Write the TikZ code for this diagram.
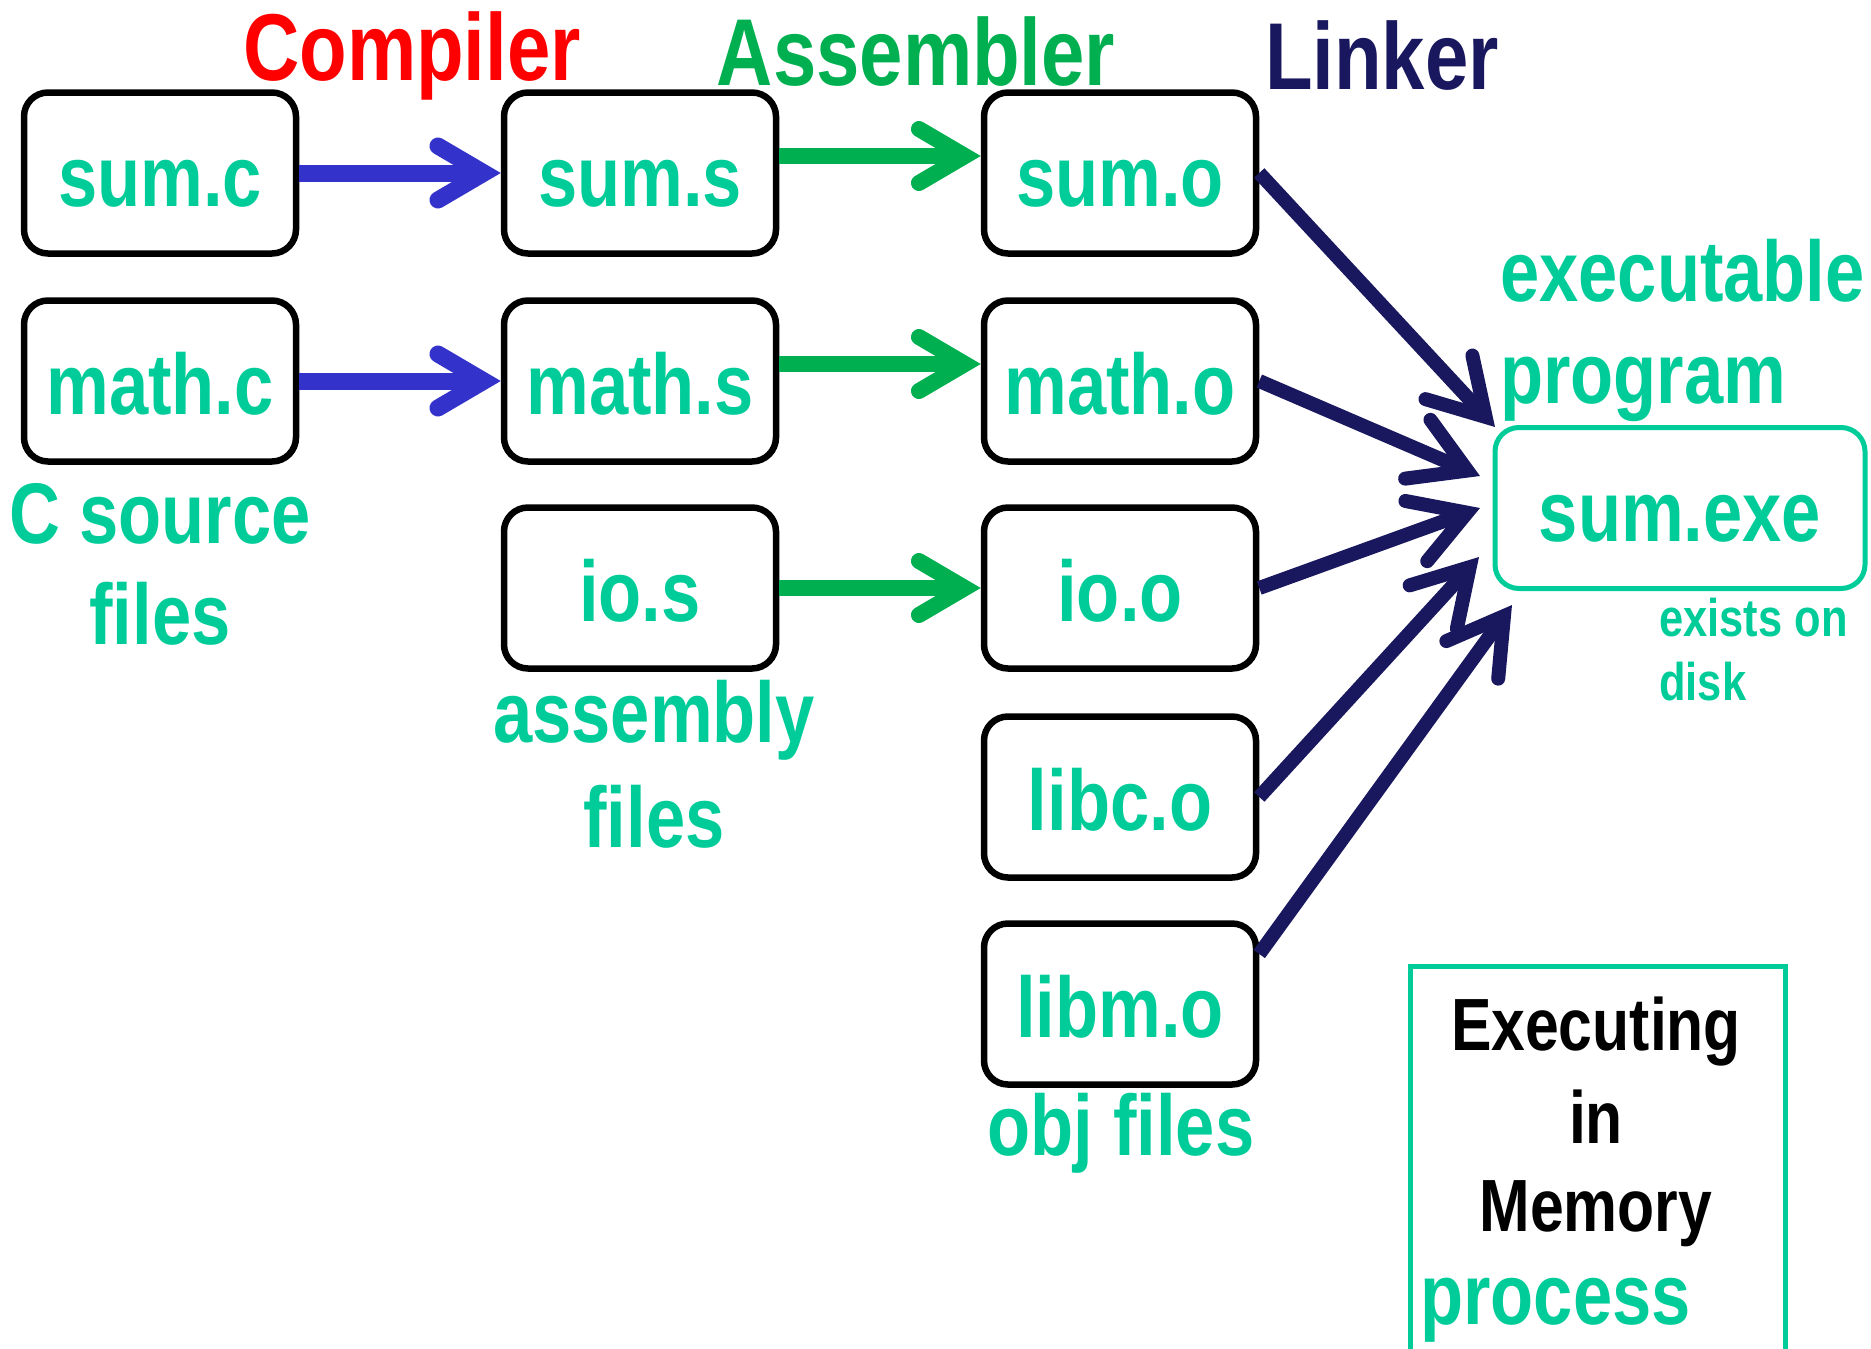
\documentclass[tikz,border=0pt]{standalone}
\usepackage{fontspec}
\setmainfont{Liberation Sans}[FakeStretch=0.82]
\usetikzlibrary{arrows.meta}
\definecolor{teal1}{RGB}{0,204,153}
\definecolor{grn}{RGB}{0,176,80}
\definecolor{blu}{RGB}{51,51,204}
\definecolor{navy1}{RGB}{25,23,94}
\definecolor{red1}{RGB}{255,0,0}
\begin{document}
\begin{tikzpicture}[x=1pt,y=-1pt,
  filebox/.style={draw=black, line width=6.5pt, rounded corners=24pt, minimum width=272pt, minimum height=161pt, inner sep=0pt, text=teal1, text height=66pt, text depth=0pt, font=\fontsize{86}{86}\selectfont\bfseries},
  exebox/.style={filebox, draw=teal1, line width=5pt, minimum width=370pt},
  lbl/.style={text=teal1, font=\fontsize{86}{86}\selectfont\bfseries, inner sep=0pt, anchor=base},
  lblw/.style={lbl, anchor=base west},
  title/.style={font=\fontsize{95}{95}\selectfont\bfseries, inner sep=0pt, anchor=base},
  blk/.style={font=\fontsize{74}{74}\selectfont\bfseries, inner sep=0pt, anchor=base, text=black},
  small/.style={text=teal1, font=\fontsize{53}{53}\selectfont\bfseries, inner sep=0pt, anchor=base west},
  bluearr/.style={draw=blu, line width=17pt, -{Straight Barb[length=46pt, width=54pt, line cap=round, line join=miter]}},
  grnarr/.style={draw=grn, line width=16pt, -{Straight Barb[length=46pt, width=54pt, line cap=round, line join=miter]}},
  navarr/.style={draw=navy1, line width=14pt, -{Straight Barb[length=54pt, width=64pt, line cap=round, line join=miter]}}
]
\useasboundingbox (0,0) rectangle (1871,1349);
\clip (0,0) rectangle (1871,1349);

% titles
\node[title, text=red1] (tcomp) at (412,80) {Compiler};
\node[title, text=grn] (tasm) at (916,85) {Assembler};
\node[title, text=navy1] (tlink) at (1382,89) {Linker};

% boxes
\node[filebox] (sumc) at (160,173) {sum.c};
\node[filebox] (mathc) at (160,381) {math.c};
\node[filebox] (sums) at (640,173) {sum.s};
\node[filebox] (maths) at (640,381) {math.s};
\node[filebox] (ios) at (640,588) {io.s};
\node[filebox] (sumo) at (1120,173) {sum.o};
\node[filebox] (matho) at (1120,381) {math.o};
\node[filebox] (ioo) at (1120,588) {io.o};
\node[filebox] (libco) at (1120,797) {libc.o};
\node[filebox] (libmo) at (1120,1004) {libm.o};
\node[exebox] (sumexe) at (1680,508) {sum.exe};

% labels
\node[lbl] (csrc) at (160,543) {C source};
\node[lbl] (cfiles) at (160,644) {files};
\node[lbl] (asmb) at (654,742) {assembly};
\node[lbl] (afiles) at (654,847) {files};
\node[lbl] (objf) at (1121,1155) {obj files};
\node[lblw] (exec) at (1500,301) {executable};
\node[lblw] (prog) at (1500,403) {program};
\node[small] (exon) at (1659,636) {exists on};
\node[small] (disk) at (1659,700) {disk};

% process box
\draw[teal1, line width=5pt] (1410,1400) -- (1410,966) -- (1785,966) -- (1785,1400);
\node[blk] (ex1) at (1596,1050) {Executing};
\node[blk] (ex2) at (1596,1143) {in};
\node[blk] (ex3) at (1596,1231) {Memory};
\node[lblw] (proc) at (1420,1324) {process};

% compiler arrows
\draw[bluearr] (sumc.east) -- (sums.west);
\draw[bluearr] (mathc.east) -- (maths.west);
% assembler arrows
\draw[grnarr] ([yshift=17pt]sums.east) -- ([yshift=17pt]sumo.west);
\draw[grnarr] ([yshift=17pt]maths.east) -- ([yshift=17pt]matho.west);
\draw[grnarr] (ios.east) -- (ioo.west);
% linker arrows
\coordinate (t1) at (1495,427);
\coordinate (t2) at (1480,476);
\coordinate (t3) at (1480,508);
\coordinate (t4) at (1479,557);
\coordinate (t5) at (1512,605);
\draw[navarr] (sumo.east) -- (t1);
\draw[navarr] (matho.east) -- (t2);
\draw[navarr] (ioo.east) -- (t3);
\draw[navarr] (libco.east) -- (t4);
\draw[navarr] ([yshift=50pt]libmo.east) -- (t5);
\end{tikzpicture}
\end{document}
